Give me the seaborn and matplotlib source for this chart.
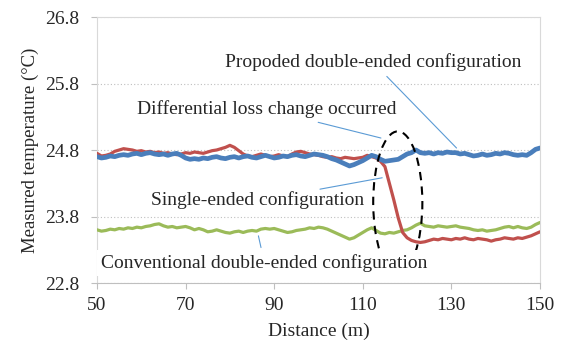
import numpy as np
import pandas as pd
import matplotlib
matplotlib.use("Agg")
import matplotlib.pyplot as plt
from matplotlib.patches import Ellipse
import seaborn as sns

# ---------------------------------
# data (1 m step)
# ---------------------------------
distance = list(range(50, 151))

proposed = [
    24.70, 24.68, 24.69, 24.71, 24.70, 24.72, 24.73, 24.72, 24.74, 24.75,
    24.73, 24.75, 24.76, 24.74, 24.73, 24.74, 24.72, 24.74, 24.75, 24.72,
    24.68, 24.66, 24.67, 24.66, 24.68, 24.67, 24.69, 24.70, 24.68, 24.67,
    24.69, 24.70, 24.68, 24.70, 24.71, 24.69, 24.68, 24.70, 24.72, 24.70,
    24.68, 24.69, 24.71, 24.70, 24.72, 24.73, 24.71, 24.70, 24.72, 24.74,
    24.73, 24.72, 24.70, 24.67, 24.65, 24.62, 24.59, 24.56, 24.58, 24.61,
    24.64, 24.68, 24.72, 24.70, 24.66, 24.63, 24.64, 24.65, 24.66, 24.70,
    24.74, 24.76, 24.80, 24.76, 24.75, 24.76, 24.74, 24.76, 24.75, 24.77,
    24.76, 24.76, 24.74, 24.75, 24.73, 24.71, 24.72, 24.74, 24.72, 24.73,
    24.75, 24.74, 24.76, 24.75, 24.73, 24.72, 24.73, 24.72, 24.76, 24.81,
    24.83,
]

single = [
    24.75, 24.71, 24.72, 24.74, 24.78, 24.80, 24.82, 24.81, 24.80, 24.78,
    24.79, 24.77, 24.78, 24.76, 24.77, 24.75, 24.76, 24.74, 24.73, 24.74,
    24.76, 24.75, 24.77, 24.76, 24.75, 24.77, 24.79, 24.80, 24.82, 24.84,
    24.87, 24.84, 24.79, 24.74, 24.71, 24.70, 24.72, 24.74, 24.72, 24.70,
    24.71, 24.73, 24.71, 24.70, 24.74, 24.77, 24.78, 24.76, 24.74, 24.73,
    24.72, 24.70, 24.69, 24.70, 24.68, 24.67, 24.69, 24.68, 24.67, 24.68,
    24.69, 24.72, 24.70, 24.68, 24.63, 24.55, 24.30, 24.05, 23.78, 23.56,
    23.48, 23.44, 23.42, 23.41, 23.42, 23.44, 23.46, 23.45, 23.47, 23.46,
    23.45, 23.47, 23.46, 23.48, 23.46, 23.45, 23.47, 23.46, 23.45, 23.43,
    23.45, 23.46, 23.48, 23.47, 23.46, 23.48, 23.47, 23.49, 23.51, 23.54,
    23.57,
]

conventional = [
    23.60, 23.58, 23.59, 23.61, 23.60, 23.62, 23.61, 23.63, 23.62, 23.64,
    23.63, 23.65, 23.66, 23.68, 23.69, 23.66, 23.64, 23.65, 23.63, 23.64,
    23.65, 23.63, 23.60, 23.62, 23.60, 23.57, 23.58, 23.60, 23.58, 23.56,
    23.55, 23.57, 23.58, 23.56, 23.58, 23.59, 23.58, 23.61, 23.62, 23.61,
    23.62, 23.60, 23.58, 23.56, 23.57, 23.59, 23.60, 23.61, 23.63, 23.62,
    23.64, 23.63, 23.61, 23.58, 23.55, 23.52, 23.49, 23.46, 23.48, 23.52,
    23.56, 23.60, 23.63, 23.59, 23.55, 23.54, 23.56, 23.55, 23.57, 23.59,
    23.60, 23.63, 23.67, 23.70, 23.66, 23.65, 23.64, 23.66, 23.65, 23.64,
    23.65, 23.66, 23.64, 23.63, 23.62, 23.60, 23.59, 23.60, 23.58, 23.59,
    23.60, 23.62, 23.64, 23.65, 23.63, 23.65, 23.63, 23.62, 23.64, 23.68,
    23.71,
]

series_names = ["Conventional", "Single", "Proposed"]
series_colors = {"Conventional": "#9bbb59", "Single": "#c0504d", "Proposed": "#4a7ebb"}
series_width = {"Conventional": 2.3, "Single": 2.3, "Proposed": 3.4}

y_ticks = [22.8, 23.8, 24.8, 25.8, 26.8]
x_ticks = [50, 70, 90, 110, 130, 150]

df = pd.concat([
    pd.DataFrame({"distance": distance, "temp": conventional, "config": "Conventional"}),
    pd.DataFrame({"distance": distance, "temp": single, "config": "Single"}),
    pd.DataFrame({"distance": distance, "temp": proposed, "config": "Proposed"}),
])

# ---------------------------------
# plot
# ---------------------------------
sns.set_style("white")
plt.rcParams['font.family'] = ['Liberation Serif', 'DejaVu Serif']

fig = plt.figure(figsize=(5.63, 3.40), dpi=100)
ax = fig.add_axes([0.1723, 0.1676, 0.7868, 0.7824])

for name in series_names:
    sub = df[df['config'] == name]
    sns.lineplot(data=sub, x='distance', y='temp', ax=ax, color=series_colors[name],
                 linewidth=series_width[name], legend=False, zorder=3)

ax.set_xlim(50, 150)
ax.set_ylim(22.8, 26.8)
ax.set_xticks(x_ticks)
ax.set_yticks(y_ticks)
ax.set_yticklabels([f"{v:.1f}" for v in y_ticks])
ax.tick_params(axis='both', labelsize=14, length=4, width=0.8, color='#bfbfbf',
               direction='out', left=True, bottom=True)
ax.tick_params(axis='y', pad=9)
ax.tick_params(axis='x', pad=6)
ax.yaxis.grid(True, linestyle=(0, (1, 2)), color='#bfbfbf', linewidth=0.8)
ax.set_xlabel('Distance (m)', fontsize=14, labelpad=6)
ax.set_ylabel('Measured temperature (°C)', fontsize=13.5, labelpad=4)
for side in ['top', 'right', 'left']:
    ax.spines[side].set_color('#d9d9d9')
    ax.spines[side].set_linewidth(0.8)
ax.spines['bottom'].set_color('#bfbfbf')

# dashed ellipse round the loss change
ax.add_patch(Ellipse((117.9, 24.01), width=11.1, height=2.14, fill=False,
                     linestyle=(0, (4, 3)), edgecolor='black', linewidth=1.5, zorder=4))

# annotations with thin leader lines
lead = dict(arrowstyle='-', color='#5b9bd5', linewidth=0.8)
ax.annotate('Propoded double-ended configuration', xy=(131.6, 24.80), xytext=(112.3, 26.12),
            fontsize=14, ha='center', va='center', arrowprops=lead, zorder=5)
ax.annotate('Differential loss change occurred', xy=(114.7, 24.97), xytext=(88.3, 25.41),
            fontsize=14, ha='center', va='center', arrowprops=lead, zorder=5)
ax.annotate('Single-ended configuration', xy=(115.0, 24.39), xytext=(86.3, 24.04),
            fontsize=14, ha='center', va='center', arrowprops=lead, zorder=5,
            bbox=dict(boxstyle='square,pad=0.1', fc='white', ec='none'))
ax.annotate('Conventional double-ended configuration', xy=(86.3, 23.55), xytext=(87.8, 23.10),
            fontsize=14, ha='center', va='center', arrowprops=lead, zorder=5,
            bbox=dict(boxstyle='square,pad=0.2', fc='white', ec='none'))

fig.savefig('out.png', dpi=100)
